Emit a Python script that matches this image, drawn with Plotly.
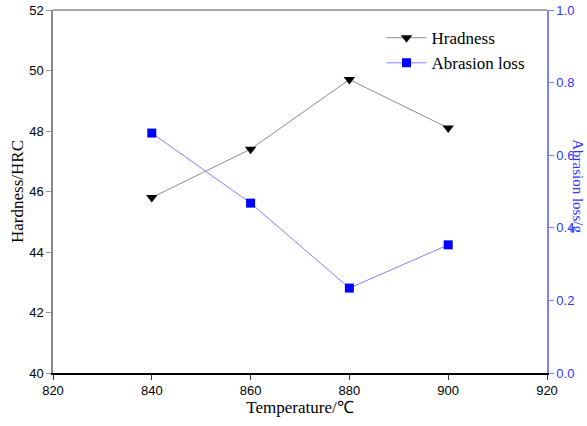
import plotly.graph_objects as go

temperature = [840, 860, 880, 900]
hardness = [45.8, 47.4, 49.7, 48.1]
abrasion_loss = [0.661, 0.468, 0.234, 0.353]

x_ticks = [820, 840, 860, 880, 900, 920]
y1_ticks = [40, 42, 44, 46, 48, 50, 52]
y2_ticks = [0.0, 0.2, 0.4, 0.6, 0.8, 1.0]

fig = go.Figure()
fig.add_trace(go.Scatter(
    x=temperature, y=hardness, name="Hradness", mode="lines+markers",
    line=dict(color="#8c8c8c", width=1),
    marker=dict(symbol="triangle-down", size=10, color="black"),
    yaxis="y"))
fig.add_trace(go.Scatter(
    x=temperature, y=abrasion_loss, name="Abrasion loss", mode="lines+markers",
    line=dict(color="#8080ff", width=1),
    marker=dict(symbol="square", size=9, color="#0000ff"),
    yaxis="y2"))

tickfont = dict(family="Liberation Sans, Arial", size=13, color="black")
titlefont = dict(family="Liberation Serif, Times New Roman", size=17, color="black")

fig.update_layout(
    width=587, height=426,
    margin=dict(l=53, r=40, t=10, b=53, autoexpand=False),
    paper_bgcolor="white", plot_bgcolor="white",
    showlegend=True,
    legend=dict(x=0.665, y=0.972, xanchor="left", yanchor="top",
                bgcolor="rgba(0,0,0,0)",
                font=dict(family="Liberation Serif, Times New Roman", size=17, color="black"),
                tracegroupgap=0, itemwidth=40),
    xaxis=dict(range=[820, 920], tickvals=x_ticks, ticks="outside", ticklen=5,
               tickcolor="#333333", showline=True, linecolor="black", linewidth=1.5,
               showgrid=False, zeroline=False, tickfont=tickfont, automargin=False,
               title=dict(text="Temperature/℃", font=titlefont, standoff=3)),
    yaxis=dict(range=[40, 52], tickvals=y1_ticks, ticks="outside", ticklen=5,
               tickcolor="#999999", showline=True, linecolor="#888888", linewidth=1.5,
               showgrid=False, zeroline=False, tickfont=tickfont, automargin=False,
               title=dict(text="Hardness/HRC", font=titlefont, standoff=1)),
    yaxis2=dict(range=[0, 1.0], tickvals=y2_ticks, tickformat=".1f",
                overlaying="y", side="right", ticks="outside", ticklen=5,
                tickcolor="#8080ff", showline=True, linecolor="#8080ff", linewidth=1.5,
                showgrid=False, zeroline=False, automargin=False,
                tickfont=dict(family="Liberation Sans, Arial", size=13, color="#3333ff")),
    shapes=[dict(type="line", xref="paper", yref="paper", x0=0, x1=1, y0=1, y1=1,
                 line=dict(color="#888888", width=1.5))],
    annotations=[dict(text="Abrasion loss/g", xref="paper", yref="paper",
                      x=1.0625, y=0.515, xanchor="center", yanchor="middle",
                      textangle=90, showarrow=False, borderpad=0,
                      font=dict(family="Liberation Serif, Times New Roman", size=15, color="#3333ff"))],
)

fig.write_html("out.html")
